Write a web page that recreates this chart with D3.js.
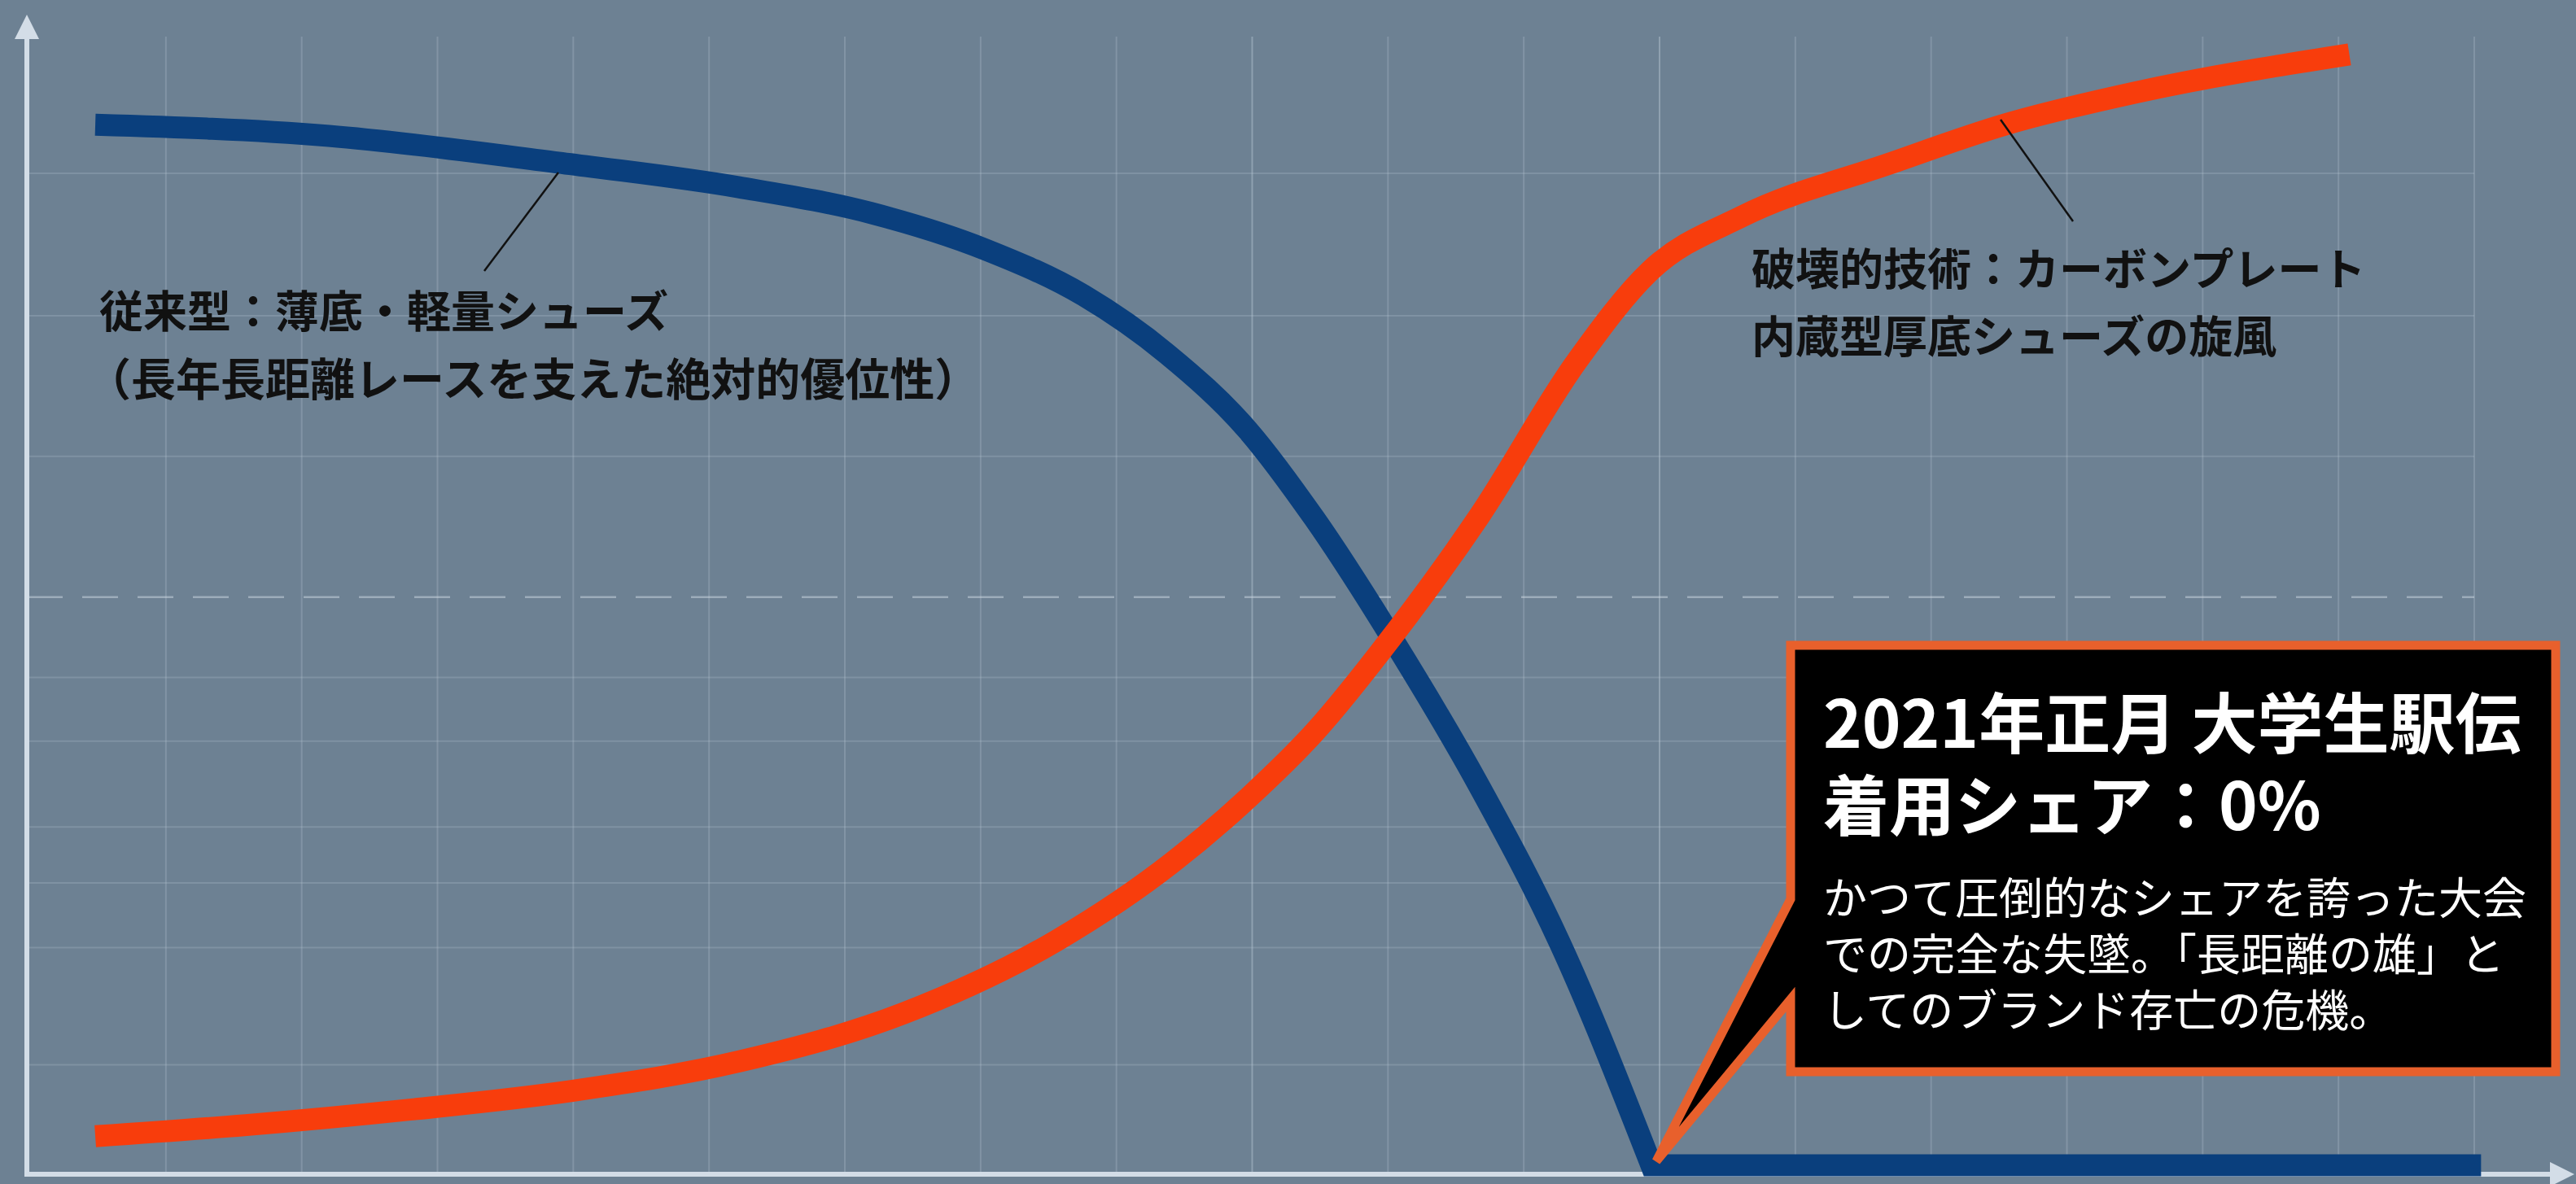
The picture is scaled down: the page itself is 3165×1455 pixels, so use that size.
<!DOCTYPE html>
<html>
<head>
<meta charset="utf-8">
<script src="https://cdn.jsdelivr.net/npm/d3@7"></script>
<style>
  body { margin: 0; background: #6c8092; }
  svg { display: block; }
</style>
</head>
<body>
<div id="chart"></div>
<script>
// ---------------------------------------------------------------- DATA ----------------------------------------------------------- //
// x : time (abstract period units, 1 unit = 1 background grid column), y : usage share (%)
const conventionalT     = [0.48, 2.20, 3.89, 5.22, 6.19, 7.04, 7.76, 8.37, 8.97, 9.46, 10.04, 10.67, 11.27, 11.94];
const conventionalShare = [93.2, 92.2, 89.8, 87.6, 85.3, 82.0, 77.9, 72.7, 65.8, 57.9, 47.0, 34.0, 19.8, 0];
const conventionalFlatT = [11.94, 18.05];   // stays at 0% after the collapse

const carbonT     = [0.48, 1.59, 2.81, 4.01, 5.22, 6.43, 7.57, 8.41, 8.97, 9.46, 10.04, 10.67, 11.39, 11.93, 12.61, 13.69, 14.54, 15.51, 17.08];
const carbonShare = [2.6, 3.6, 5.0, 6.7, 9.3, 13.6, 20.2, 27.1, 32.9, 38.8, 47.5, 58.1, 72.0, 80.1, 85.0, 89.7, 93.2, 96.1, 99.5];

const gridCols = d3.range(1, 19);
const gridRows = [88.85, 76.1, 63.5, 38.0, 43.7, 30.3, 25.3, 19.5, 9.0];
const gridMidRow = 50.9;

const conventionalLabel = ["従来型：薄底・軽量シューズ", "（長年長距離レースを支えた絶対的優位性）"];
const carbonLabel = ["破壊的技術：カーボンプレート", "内蔵型厚底シューズの旋風"];
const calloutTitle = ["2021年正月 大学生駅伝", "着用シェア：0%"];
const calloutBody = ["かつて圧倒的なシェアを誇った大会", "での完全な失墜。「長距離の雄」と", "してのブランド存亡の危機。"];

// ---------------------------------------------------------------- SETUP ---------------------------------------------------------- //
const width = 3165, height = 1455;
const axisX = 33, axisY = 1443;

const svg = d3.select("#chart")
  .append("svg")
  .attr("width", width)
  .attr("height", height);

svg.append("rect")
  .attr("width", width)
  .attr("height", height)
  .attr("fill", "#6d8193");

const x = d3.scaleLinear().domain([0, 18]).range([37, 3040]);
const y = d3.scaleLinear().domain([0, 100]).range([1432, 60]);

const font = "'Noto Sans CJK JP', 'Noto Sans', sans-serif";

// ---------------------------------------------------------------- GRID ----------------------------------------------------------- //
const grid = svg.append("g");

grid.selectAll(".vgrid")
  .data(gridCols)
  .enter()
  .append("line")
  .attr("x1", d => x(d)).attr("x2", d => x(d))
  .attr("y1", 45).attr("y2", axisY)
  .attr("stroke", "#b9c7d4")
  .attr("stroke-opacity", d => (d === 9 || d === 12) ? 0.45 : 0.28)
  .attr("stroke-width", 2);

grid.selectAll(".hgrid")
  .data(gridRows)
  .enter()
  .append("line")
  .attr("x1", axisX).attr("x2", x(18))
  .attr("y1", d => y(d)).attr("y2", d => y(d))
  .attr("stroke", "#b9c7d4")
  .attr("stroke-opacity", 0.25)
  .attr("stroke-width", 2);

grid.append("line")
  .attr("x1", axisX).attr("x2", x(18))
  .attr("y1", y(gridMidRow)).attr("y2", y(gridMidRow))
  .attr("stroke", "#cdd8e2")
  .attr("stroke-opacity", 0.5)
  .attr("stroke-width", 2.5)
  .attr("stroke-dasharray", "44 24");

// ---------------------------------------------------------------- AXES ----------------------------------------------------------- //
const axisColor = "#d3dde7";
svg.append("line")
  .attr("x1", axisX).attr("x2", axisX)
  .attr("y1", axisY).attr("y2", 40)
  .attr("stroke", axisColor).attr("stroke-width", 6);
svg.append("path")
  .attr("d", `M${axisX},18 L${axisX - 15},48 L${axisX + 15},48 Z`)
  .attr("fill", axisColor);

svg.append("line")
  .attr("x1", axisX - 3).attr("x2", 3140)
  .attr("y1", axisY).attr("y2", axisY)
  .attr("stroke", axisColor).attr("stroke-width", 6);
svg.append("path")
  .attr("d", `M3163,${axisY} L3133,${axisY - 15} L3133,${axisY + 15} Z`)
  .attr("fill", axisColor);

// ---------------------------------------------------------------- LINES ---------------------------------------------------------- //
const line = d3.line()
  .x(d => x(d[0]))
  .y(d => y(d[1]))
  .curve(d3.curveMonotoneX);

const conventionalPts = conventionalT.map((t, i) => [t, conventionalShare[i]]);
const flatPts = conventionalFlatT.map(t => [t, 0]);

// curved decline + straight flat part in one path so the corner stays sharp
svg.append("path")
  .attr("d", line(conventionalPts) + d3.line().x(d => x(d[0])).y(d => y(d[1]))(flatPts).replace("M", "L"))
  .attr("fill", "none")
  .attr("stroke", "#0a3f7d")
  .attr("stroke-width", 27)
  .attr("stroke-linejoin", "miter");

svg.append("path")
  .attr("d", line(carbonT.map((t, i) => [t, carbonShare[i]])))
  .attr("fill", "none")
  .attr("stroke", "#f83d0c")
  .attr("stroke-width", 27);

// ---------------------------------------------------------------- LABELS --------------------------------------------------------- //
// leader lines
svg.append("line")
  .attr("x1", 686).attr("y1", 212)
  .attr("x2", 595).attr("y2", 333)
  .attr("stroke", "#111").attr("stroke-width", 2.5);
svg.append("line")
  .attr("x1", 2458).attr("y1", 147)
  .attr("x2", 2547).attr("y2", 272)
  .attr("stroke", "#111").attr("stroke-width", 2.5);

svg.append("g")
  .selectAll("text")
  .data(conventionalLabel)
  .enter()
  .append("text")
  .attr("x", (d, i) => i === 0 ? 122 : 106)
  .attr("y", (d, i) => 379 + i * 83)
  .attr("dominant-baseline", "central")
  .attr("font-family", font)
  .attr("font-size", (d, i) => i === 0 ? 54 : 55)
  .attr("font-weight", 700)
  .attr("fill", "#111")
  .text(d => d);

svg.append("g")
  .selectAll("text")
  .data(carbonLabel)
  .enter()
  .append("text")
  .attr("x", 2152)
  .attr("y", (d, i) => 327 + i * 83)
  .attr("dominant-baseline", "central")
  .attr("font-family", font)
  .attr("font-size", 54)
  .attr("font-weight", 700)
  .attr("fill", "#111")
  .text(d => d);

// ---------------------------------------------------------------- CALLOUT -------------------------------------------------------- //
const tipX = x(conventionalFlatT[0]) + 6, tipY = y(0) - 5;
const boxL = tipX + 165, boxR = 3140, boxT = tipY - 634, boxB = tipY - 110;

const callout = svg.append("g");
callout.append("path")
  .attr("d", `M${boxL},${boxT} H${boxR} V${boxB} H${boxL} V${tipY - 199} L${tipX},${tipY} L${boxL},${tipY - 322} Z`)
  .attr("fill", "#000")
  .attr("stroke", "#e8602c")
  .attr("stroke-width", 11)
  .attr("stroke-linejoin", "miter");

callout.selectAll(".title")
  .data(calloutTitle)
  .enter()
  .append("text")
  .attr("x", boxL + 40)
  .attr("y", (d, i) => boxT + 90 + i * 101)
  .attr("dominant-baseline", "central")
  .attr("font-family", font)
  .attr("font-size", 81)
  .attr("font-weight", 700)
  .attr("fill", "#fff")
  .text(d => d);

callout.selectAll(".body")
  .data(calloutBody)
  .enter()
  .append("text")
  .attr("x", boxL + 40)
  .attr("y", (d, i) => boxT + 307 + i * 69)
  .attr("dominant-baseline", "central")
  .attr("font-family", font)
  .attr("font-size", 54)
  .attr("font-weight", 400)
  .attr("fill", "#fff")
  .text(d => d);
</script>
</body>
</html>
